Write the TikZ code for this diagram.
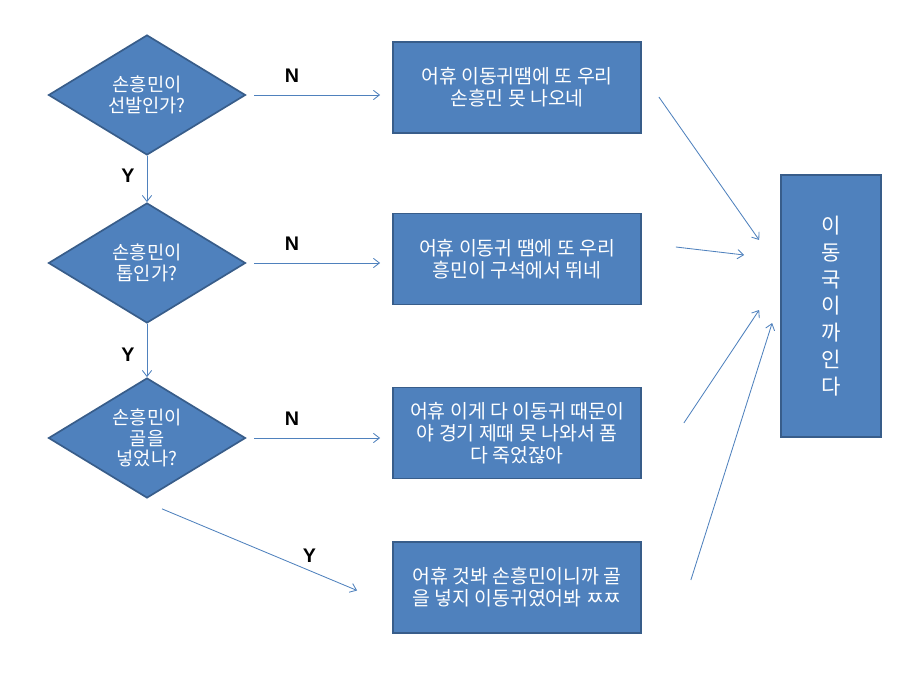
\documentclass[tikz,border=0pt]{standalone}
\usepackage{fontspec}
\setmainfont{Liberation Sans}
\newfontfamily\kr{Noto Sans CJK KR}
\usetikzlibrary{shapes.geometric,arrows.meta}
\definecolor{boxblue}{HTML}{4F81BD}
\definecolor{boxline}{HTML}{385D8A}
\tikzset{
  ask/.style={diamond, draw=boxline, line width=1.2pt, fill=boxblue, text=white,
    font=\kr\fontsize{13.3}{14.5}\selectfont, align=center, inner sep=0pt, aspect=1.65,
    minimum width=4.925cm, minimum height=3cm},
  say/.style={rectangle, draw=boxline, line width=1.2pt, fill=boxblue, text=white,
    font=\kr\fontsize{13.8}{15.5}\selectfont, align=center,
    minimum width=6.2cm, minimum height=2.275cm},
  result/.style={rectangle, draw=boxline, line width=1.2pt, fill=boxblue, text=white,
    font=\kr\fontsize{15}{19}\selectfont, align=center,
    minimum width=2.5cm, minimum height=6.55cm},
  arr/.style={draw=boxblue, line width=0.6pt, -{Straight Barb[length=4.3pt,width=6.6pt]}},
  yn/.style={font=\bfseries\fontsize{14}{16}\selectfont, inner sep=0pt}
}
\begin{document}
\begin{tikzpicture}[x=0.025cm,y=-0.025cm]
  \useasboundingbox (0,0) rectangle (900,675);
  \node[ask] (q1) at (147,95) {손흥민이\\선발인가?};
  \node[ask] (q2) at (147,263) {손흥민이\\톱인가?};
  \node[ask] (q3) at (147,438) {손흥민이\\골을\\넣었나?};
  \node[say] (a1) at (517,87.5) {어휴 이동귀땜에 또 우리\\손흥민 못 나오네};
  \node[say] (a2) at (517,259) {어휴 이동귀 땜에 또 우리\\흥민이 구석에서 뛰네};
  \node[say] (a3) at (517,433) {어휴 이게 다 이동귀 때문이\\야 경기 제때 못 나와서 폼\\다 죽었잖아};
  \node[say] (a4) at (517,587.5) {어휴 것봐 손흥민이니까 골\\을 넣지 이동귀였어봐 ㅉㅉ};
  \node[result] (r) at (831,306) {이\\동\\국\\이\\까\\인\\다};
  \coordinate (y3) at ([shift={(15,10)}]q3.south);
  \coordinate (y4) at ([shift={(-35,3)}]a4.west);
  \coordinate (s1) at ([shift={(17,9.5)}]a1.east);
  \coordinate (s2) at ([shift={(34,-12)}]a2.east);
  \coordinate (s3) at ([shift={(42,-10)}]a3.east);
  \coordinate (s4) at ([shift={(49,-7.5)}]a4.east);
  \coordinate (t1) at ([shift={(-21,-66)}]r.west);
  \coordinate (t2) at ([shift={(-36,-51)}]r.west);
  \coordinate (t3) at ([shift={(-21,4)}]r.west);
  \coordinate (t4) at ([shift={(-8,17)}]r.west);
  \begin{scope}[arr]
    \draw ([xshift=0.2cm]q1.east) to node[yn, pos=0.3, above=0.3cm] (n1) {N} ([xshift=-0.3cm]a1.west |- q1.east);
    \draw ([xshift=0.2cm]q2.east) to node[yn, pos=0.3, above=0.3cm] (n2) {N} ([xshift=-0.3cm]a2.west |- q2.east);
    \draw ([xshift=0.2cm]q3.east) to node[yn, pos=0.3, above=0.3cm] (n3) {N} ([xshift=-0.3cm]a3.west |- q3.east);
    \draw (q1.south) to node[yn, pos=0.42, left=0.3cm] (v1) {Y} (q2.north);
    \draw (q2.south) to node[yn, pos=0.57, left=0.3cm] (v2) {Y} (q3.north);
    \draw (y3) to node[yn, pos=0.755, above=0.2cm] (v3) {Y} (y4);
    \draw (s1) to (t1);
    \draw (s2) to (t2);
    \draw (s3) to (t3);
    \draw (s4) to (t4);
  \end{scope}
\end{tikzpicture}
\end{document}
